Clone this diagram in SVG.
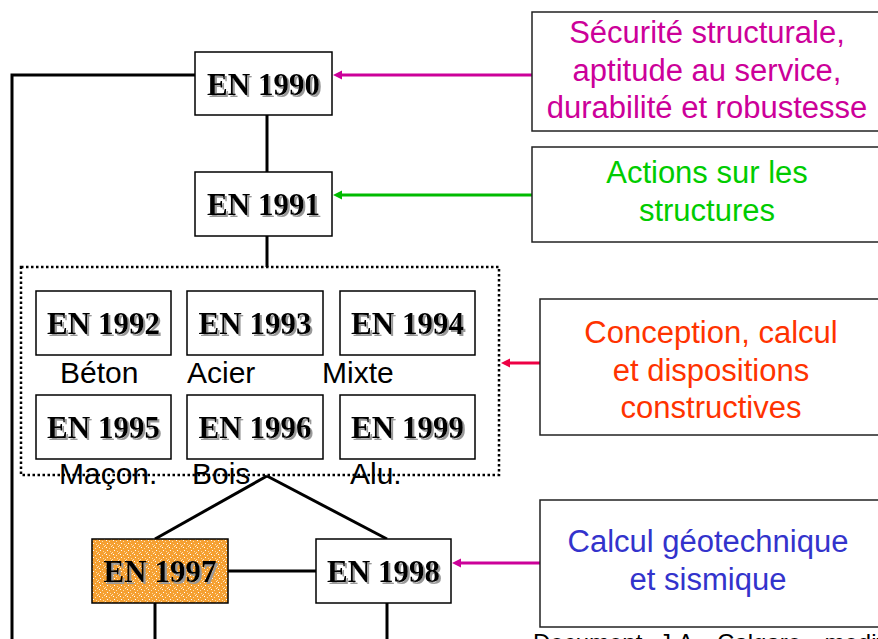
<svg xmlns="http://www.w3.org/2000/svg" width="878" height="639" viewBox="0 0 878 639">
<style>
.box{fill:#fff;stroke:#000;stroke-width:1.5}
.en{font-family:"Liberation Serif","Times New Roman",serif;font-weight:bold;font-size:31px;text-anchor:middle;fill:#000;filter:url(#shadow)}
.lab{font-family:"Liberation Sans",Arial,sans-serif;font-size:30px;fill:#000}
.desc{font-family:"Liberation Sans",Arial,sans-serif;font-size:31px;text-anchor:middle}
.rbox{fill:#fff;stroke:#222;stroke-width:1.5}
.ln{stroke:#000;stroke-width:3;fill:none}
.arr{stroke-width:3;fill:none}
.foot{font-family:"Liberation Sans",Arial,sans-serif;font-size:24px;fill:#000}
</style>
<defs>
<filter id="shadow" x="-10%" y="-20%" width="130%" height="150%">
<feDropShadow dx="2" dy="2" stdDeviation="0.4" flood-color="#999" flood-opacity="1"/>
</filter>
<pattern id="speck" width="7" height="7" patternUnits="userSpaceOnUse">
<rect width="7" height="7" fill="#F5A032"/>
<rect x="1" y="1" width="1" height="1" fill="#fff"/>
<rect x="4" y="2" width="1" height="1" fill="#FCE0B0"/>
<rect x="2" y="4" width="1" height="1" fill="#fff"/>
<rect x="5" y="5" width="1" height="1" fill="#FFD9A0"/>
<rect x="6" y="0" width="1" height="1" fill="#FCE8C8"/>
<rect x="0" y="6" width="1" height="1" fill="#FFE0B0"/>
</pattern>
</defs>

<g id="connectors">
<polyline class="ln" points="195,75 12,75 12,639"/>
<line class="ln" x1="267" y1="115" x2="267" y2="172"/>
<line class="ln" x1="267" y1="236" x2="267" y2="267"/>
<line class="ln" x1="267" y1="476" x2="155" y2="539"/>
<line class="ln" x1="267" y1="476" x2="387" y2="539"/>
<line class="ln" x1="228" y1="571" x2="316" y2="571"/>
<line class="ln" x1="155" y1="603" x2="155" y2="639"/>
<line class="ln" x1="387" y1="603" x2="387" y2="639"/>
<line class="arr" stroke="#CC0099" x1="532" y1="75" x2="340" y2="75"/>
<polygon fill="#CC0099" points="333,75 342,70.5 342,79.5"/>
<line class="arr" stroke="#00BB00" x1="532" y1="195" x2="340" y2="195"/>
<polygon fill="#00BB00" points="333,195 342,190.5 342,199.5"/>
<line class="arr" stroke="#EE0044" x1="540" y1="363" x2="508" y2="363"/>
<polygon fill="#EE0044" points="501,363 510,358.5 510,367.5"/>
<line class="arr" stroke="#CC0099" x1="540" y1="563" x2="459" y2="563"/>
<polygon fill="#CC0099" points="452,563 461,558.5 461,567.5"/>
</g>

<g id="group-materials">
<rect x="21" y="267" width="478" height="208" fill="none" stroke="#000" stroke-width="2.5" stroke-dasharray="2.5,2.5"/>
</g>

<g id="en1990">
<rect class="box" x="195" y="52" width="137" height="63"/>
<text class="en" x="263.5" y="95">EN 1990</text>
</g>
<g id="en1991">
<rect class="box" x="195" y="172" width="137" height="64"/>
<text class="en" x="263.5" y="215">EN 1991</text>
</g>
<g id="en1992">
<rect class="box" x="36" y="291" width="135" height="64"/>
<text class="en" x="103.5" y="334">EN 1992</text>
<text class="lab" x="60" y="383">Béton</text>
</g>
<g id="en1993">
<rect class="box" x="187" y="291" width="136" height="64"/>
<text class="en" x="255" y="334">EN 1993</text>
<text class="lab" x="187" y="383">Acier</text>
</g>
<g id="en1994">
<rect class="box" x="340" y="291" width="135" height="64"/>
<text class="en" x="407.5" y="334">EN 1994</text>
<text class="lab" x="322" y="383">Mixte</text>
</g>
<g id="en1995">
<rect class="box" x="36" y="395" width="135" height="64"/>
<text class="en" x="103.5" y="438">EN 1995</text>
<text class="lab" x="59" y="484">Maçon.</text>
</g>
<g id="en1996">
<rect class="box" x="187" y="395" width="136" height="64"/>
<text class="en" x="255" y="438">EN 1996</text>
<text class="lab" x="192" y="484">Bois</text>
</g>
<g id="en1999">
<rect class="box" x="340" y="395" width="135" height="64"/>
<text class="en" x="407.5" y="438">EN 1999</text>
<text class="lab" x="350" y="484">Alu.</text>
</g>
<g id="en1997">
<rect x="92" y="539" width="136" height="64" fill="url(#speck)" stroke="#000" stroke-width="1.5"/>
<text class="en" x="160" y="582">EN 1997</text>
</g>
<g id="en1998">
<rect class="box" x="316" y="539" width="135" height="64"/>
<text class="en" x="383.5" y="582">EN 1998</text>
</g>

<g id="desc-securite">
<rect class="rbox" x="532" y="12" width="350" height="119"/>
<text class="desc" fill="#CC0099" x="707" y="43">Sécurité structurale,</text>
<text class="desc" fill="#CC0099" x="707" y="81">aptitude au service,</text>
<text class="desc" fill="#CC0099" x="707" y="118">durabilité et robustesse</text>
</g>
<g id="desc-actions">
<rect class="rbox" x="532" y="147" width="350" height="95"/>
<text class="desc" fill="#00CC00" x="707" y="183">Actions sur les</text>
<text class="desc" fill="#00CC00" x="707" y="221">structures</text>
</g>
<g id="desc-conception">
<rect class="rbox" x="540" y="299" width="342" height="136"/>
<text class="desc" fill="#FF3300" x="711" y="343">Conception, calcul</text>
<text class="desc" fill="#FF3300" x="711" y="381">et dispositions</text>
<text class="desc" fill="#FF3300" x="711" y="418">constructives</text>
</g>
<g id="desc-geo">
<rect class="rbox" x="540" y="500" width="342" height="127"/>
<text class="desc" fill="#3333CC" x="708" y="552">Calcul géotechnique</text>
<text class="desc" fill="#3333CC" x="708" y="590">et sismique</text>
</g>
<g id="footer">
<text class="foot" x="533" y="651" word-spacing="10">Document J.A. Calgaro, modifié</text>
</g>
</svg>
